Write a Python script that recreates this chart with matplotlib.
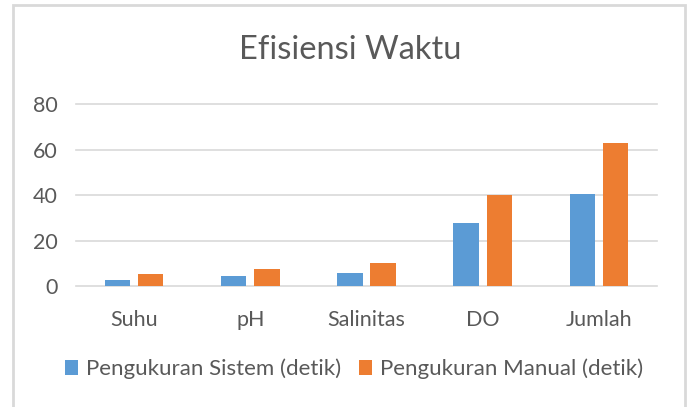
import matplotlib
matplotlib.use("Agg")
import numpy as np
import matplotlib.pyplot as plt
from matplotlib.patches import Rectangle, Patch

# data
categories = ["Suhu", "pH", "Salinitas", "DO", "Jumlah"]
sistem = [2.8, 4.6, 5.7, 27.6, 40.7]
manual = [5.2, 7.3, 10.3, 40.1, 63.0]
yticks = [0, 20, 40, 60, 80]

BLUE = "#5b9bd5"
ORANGE = "#ed7d31"
TXT = "#595959"
GRID = "#d9d9d9"

plt.rcParams["font.family"] = ["Lato", "DejaVu Sans"]

W, H = 691, 407
fig = plt.figure(figsize=(W / 100, H / 100), dpi=100)
fig.patch.set_facecolor("white")

# axes placed in pixel terms
left, right, top, bottom = 76, 657, 104.3, 286
ax = fig.add_axes([left / W, 1 - bottom / H, (right - left) / W, (bottom - top) / H])

x = np.arange(len(categories))
bw = 0.22
off = 0.143
ax.bar(x - off, sistem, bw, color=BLUE, zorder=3)
ax.bar(x + off, manual, bw, color=ORANGE, zorder=3)

ax.set_xlim(-0.5, len(categories) - 0.5)
ax.set_ylim(0, 80)
ax.set_yticks(yticks)
ax.set_xticks(x)
ax.set_xticklabels(categories)
ax.grid(axis="y", color=GRID, linewidth=1.2, zorder=0)
ax.set_axisbelow(True)
for s in ax.spines.values():
    s.set_visible(False)
ax.tick_params(axis="both", length=0, colors=TXT, labelsize=15.5)
ax.tick_params(axis="y", pad=13)
ax.tick_params(axis="x", pad=17)
for gl in ax.get_ygridlines():
    gl.set_clip_on(False)

fig.text(350 / W, 1 - 50 / H, "Efisiensi Waktu", ha="center", va="center",
         fontsize=23.5, color=TXT)

handles = [Patch(facecolor=BLUE, label="Pengukuran Sistem (detik)"),
           Patch(facecolor=ORANGE, label="Pengukuran Manual (detik)")]
leg = fig.legend(handles=handles, loc="center", bbox_to_anchor=(354 / W, 1 - 369 / H),
                 ncol=2, frameon=False, fontsize=16, handlelength=0.6,
                 handleheight=0.6, handletextpad=0.35, columnspacing=0.8)
for t in leg.get_texts():
    t.set_color(TXT)

# light gray chart frame
fig.add_artist(Rectangle((13 / W, -0.05), (684.5 - 13) / W, 1.05 - 5 / H,
                         transform=fig.transFigure, fill=False,
                         edgecolor=GRID, linewidth=2))

fig.savefig("out.png", dpi=100)
